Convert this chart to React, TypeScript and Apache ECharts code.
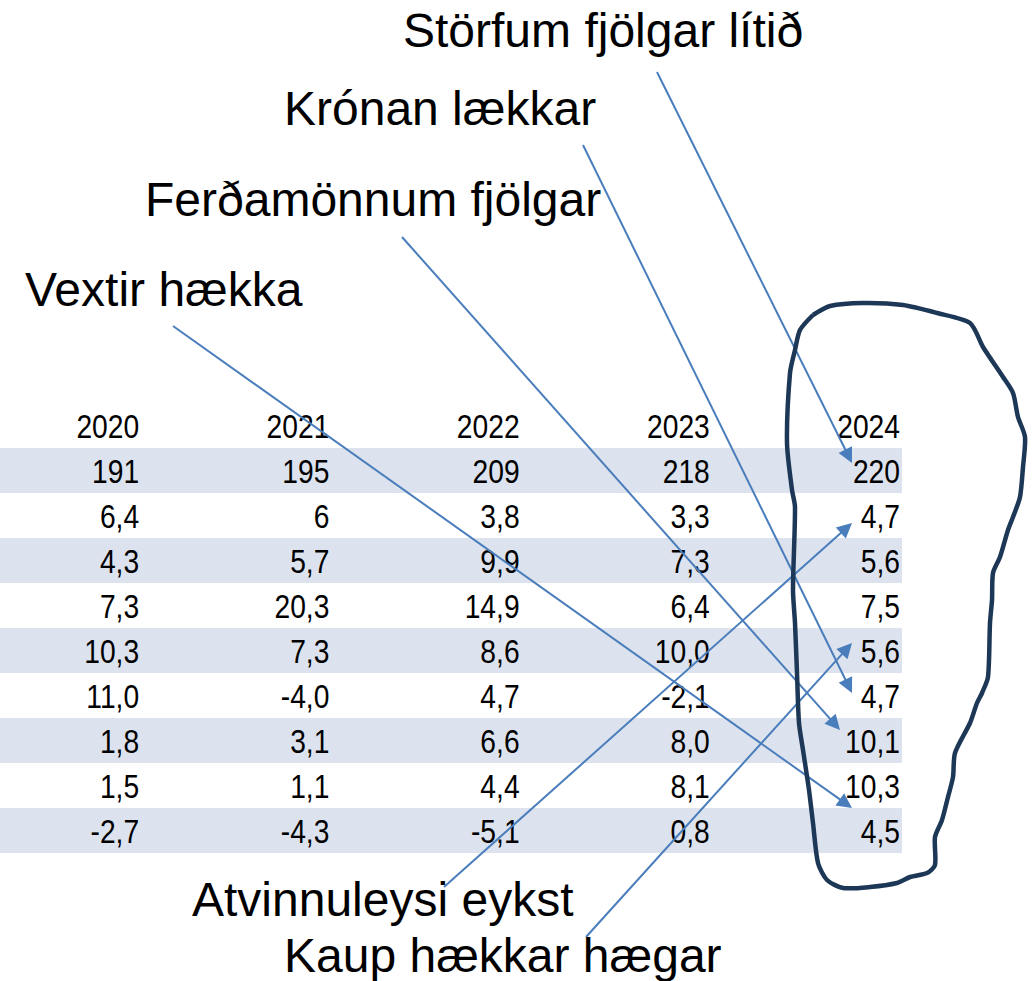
import React, { useEffect, useRef } from "react";
import * as echarts from "echarts";

// ---- data ----
const years = [2020, 2021, 2022, 2023, 2024];
const v2020 = [191, 6.4, 4.3, 7.3, 10.3, 11.0, 1.8, 1.5, -2.7];
const v2021 = [195, 6, 5.7, 20.3, 7.3, -4.0, 3.1, 1.1, -4.3];
const v2022 = [209, 3.8, 9.9, 14.9, 8.6, 4.7, 6.6, 4.4, -5.1];
const v2023 = [218, 3.3, 7.3, 6.4, 10.0, -2.1, 8.0, 8.1, 0.8];
const v2024 = [220, 4.7, 5.6, 7.5, 5.6, 4.7, 10.1, 10.3, 4.5];
const columns = [v2020, v2021, v2022, v2023, v2024];

const annotationTexts = [
  "Störfum fjölgar lítið",
  "Krónan lækkar",
  "Ferðamönnum fjölgar",
  "Vextir hækka",
  "Atvinnuleysi eykst",
  "Kaup hækkar hægar",
];
// row (1-based) of the 2024 column each annotation points to
const arrowTargetRows = [1, 6, 7, 8, 2, 5];
const shadedRows = [1, 3, 5, 7, 9];

// ---- layout (pixels) ----
const W = 1034;
const H = 981;
const annotationPos: [number, number][] = [
  [403, 30],
  [284, 108],
  [145, 199],
  [25, 289],
  [192, 899],
  [284, 955],
];
const arrowStart: [number, number][] = [
  [657, 72],
  [583, 145],
  [402, 237],
  [173, 326],
  [444, 887],
  [586, 937],
];
const tipOffset: [number, number][] = [
  [-48, -7.5],
  [-48, -2.5],
  [-60, -10.5],
  [-48, 22.5],
  [-48, 7.5],
  [-48, -7.5],
];
const loopPoints: [number, number][] = [
  [813, 315], [830, 306], [863, 303], [903, 305], [937, 313], [970, 323],
  [983, 347], [1003, 377], [1013, 393], [1018, 417], [1025, 437], [1023, 467],
  [1020, 497], [1013, 517], [1008, 530], [1000, 557], [993, 573], [992, 600],
  [990, 623], [988, 677], [982, 693], [977, 703], [970, 723], [955, 753],
  [953, 777], [948, 797], [942, 820], [935, 837], [935, 865], [927, 873],
  [910, 877], [897, 883], [870, 887], [843, 888], [827, 880], [818, 863],
  [813, 823], [809, 790], [803, 750], [799, 723], [797, 673], [795, 623],
  [793, 590], [795, 507], [792, 490], [787, 443], [790, 373], [795, 350],
  [800, 330], [813, 315],
];

const NUM_FONT = "'Liberation Sans', Arial, sans-serif";
const TXT_FONT = "'Liberation Sans', Arial, sans-serif";
const NUM_SCALE_X = 0.83;
const ARROW_COLOR = "#4a7dbb";
const HEAD = 15;

function fmt(v: number, rowIdx: number): string {
  const s = rowIdx <= 1 ? String(v) : v.toFixed(1);
  return s.replace(".", ",");
}

export default function App() {
  const ref = useRef<HTMLDivElement>(null);
  useEffect(() => {
    document.body.style.margin = "0";
    const chart = echarts.init(ref.current!, null, { renderer: "svg" });

    const header = years.map((y) => [y, 0]);
    const headerText = years.map((y) => String(y));
    const cells: number[][] = [];
    const cellText: string[] = [];
    years.forEach((yr, ci) =>
      columns[ci].forEach((v, ri) => {
        cells.push([yr, ri + 1, v]);
        cellText.push(fmt(v, ri));
      })
    );
    const allData = [...header.map((d) => [d[0], d[1], 0]), ...cells];
    const allText = [...headerText, ...cellText];

    const baseSeries: any[] = [
      {
        type: "custom",
        id: "table",
        data: allData,
        silent: true,
        z: 3,
        renderItem: (params: any, api: any) => {
          const p = api.coord([api.value(0), api.value(1)]);
          return {
            type: "text",
            x: p[0],
            y: p[1] + 1,
            scaleX: NUM_SCALE_X,
            style: {
              text: allText[params.dataIndex],
              fill: "#000",
              fontFamily: NUM_FONT,
              fontSize: 34,
              align: "right",
              verticalAlign: "middle",
            },
          };
        },
        markArea: {
          silent: true,
          itemStyle: { color: "#dce3ee" },
          data: shadedRows.map((r) => [{ yAxis: r - 0.5 }, { yAxis: r + 0.5 }]),
        },
      },
    ];

    const option: any = {
      animation: false,
      grid: { left: 0, right: W - 902, top: 403, bottom: H - 853 },
      xAxis: { type: "value", min: 2020 - 139 / 190, max: 2024 + 2 / 190, show: false },
      yAxis: { type: "value", inverse: true, min: -0.5, max: 9.5, show: false },
      graphic: [
        ...annotationTexts.map((t, i) => ({
          type: "text",
          x: annotationPos[i][0],
          y: annotationPos[i][1],
          z: 10,
          style: {
            text: t,
            fill: "#000",
            fontFamily: TXT_FONT,
            fontSize: 48,
            align: "left",
            verticalAlign: "middle",
          },
        })),
        {
          type: "polyline",
          z: 9,
          shape: { points: loopPoints, smooth: 0.25 },
          style: { stroke: "#1d3757", lineWidth: 4.5, fill: null, lineJoin: "round" },
        },
      ],
      series: baseSeries,
    };
    chart.setOption(option);

    const toPx = (d: number[]) => chart.convertToPixel({ gridIndex: 0 }, d) as number[];
    const toData = (p: number[]) => chart.convertFromPixel({ gridIndex: 0 }, p) as number[];
    const arrows = arrowTargetRows.map((row, i) => {
      const c = toPx([2024, row]);
      const tip = [c[0] + tipOffset[i][0], c[1] + tipOffset[i][1]];
      const s = arrowStart[i];
      const dx = tip[0] - s[0];
      const dy = tip[1] - s[1];
      const len = Math.sqrt(dx * dx + dy * dy);
      const end = [tip[0] - (dx / len) * (HEAD / 2), tip[1] - (dy / len) * (HEAD / 2)];
      return { coords: [toData(s), toData(end)] };
    });

    chart.setOption({
      series: [
        ...baseSeries,
        {
          type: "lines",
          id: "arrows",
          coordinateSystem: "cartesian2d",
          clip: false,
          silent: true,
          z: 5,
          symbol: ["none", "triangle"],
          symbolSize: HEAD,
          lineStyle: { color: ARROW_COLOR, width: 2, opacity: 1, curveness: 0 },
          data: arrows,
        },
      ],
    });

    return () => chart.dispose();
  }, []);
  return <div ref={ref} style={{ width: W, height: H }} />;
}
